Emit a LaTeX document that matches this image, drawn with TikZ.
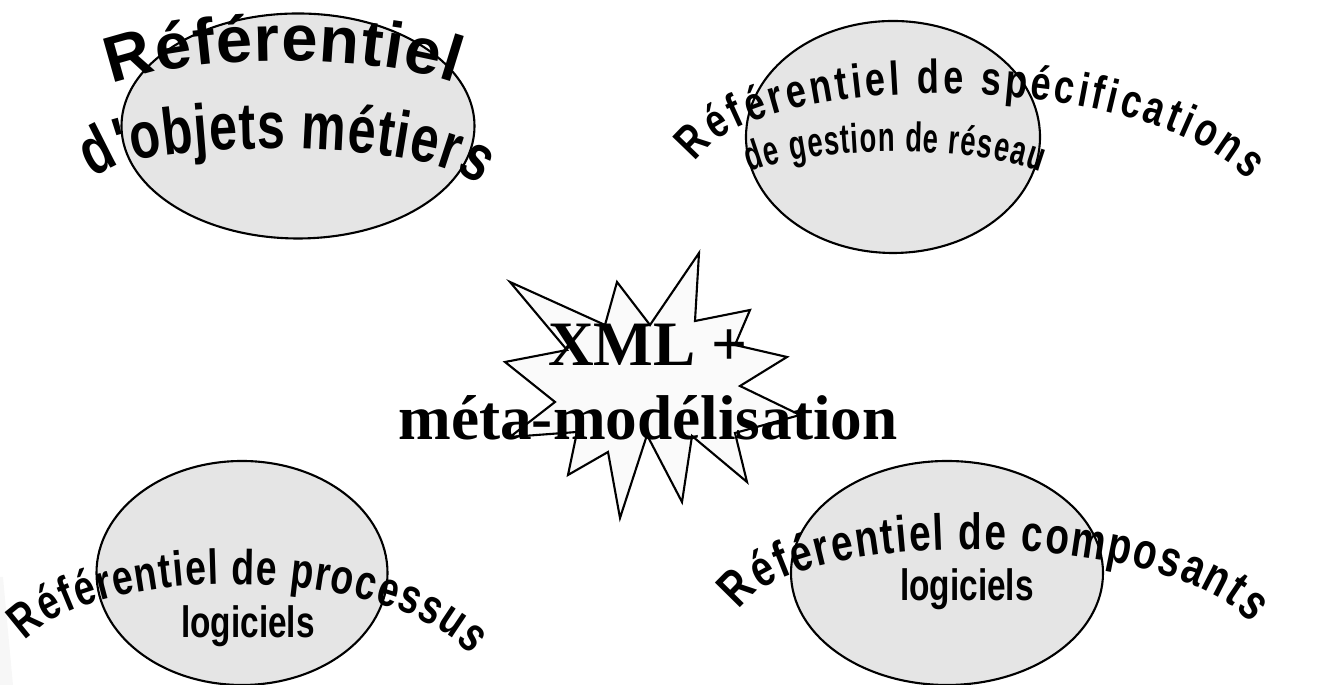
\documentclass[tikz,border=0pt]{standalone}
\usepackage{fontspec}
\usepackage{tikz}
\usetikzlibrary{shapes.geometric,decorations.text,positioning}
\newfontfamily\arcfont{Liberation Sans}[FakeStretch=0.76]
\newfontfamily\arcnarrowfont{Liberation Sans}[FakeStretch=0.66]
\newfontfamily\arcwidefont{Liberation Sans}
\newfontfamily\xmlfont{Liberation Serif}
\definecolor{ovalgray}{gray}{0.9}
\definecolor{stargray}{gray}{0.98}
\definecolor{stripgray}{gray}{0.97}

\begin{document}
\begin{tikzpicture}[
  oval/.style={ellipse, draw, line width=0.6pt, fill=ovalgray, inner sep=0pt},
  arctext/.style n args={3}{decorate, decoration={text along path, text align={fit to path},
    text={|#1\bfseries\fontsize{#2}{#2}\selectfont|#3}}},
  flattext/.style={font=\arcfont\bfseries\fontsize{12.5}{15}\selectfont, inner sep=0pt},
  xmltext/.style={font=\xmlfont\bfseries\fontsize{18}{21}\selectfont, inner sep=0pt}]
			\useasboundingbox (0,0) rectangle (13.22,6.85);
			\fill[stripgray] (0,1.08) -- (0.03,1.08) -- (0.13,0) -- (0,0) -- cycle;
			% les quatre referentiels
			\node[oval, minimum width=3.53cm, minimum height=2.25cm] (objets) at (2.98,5.59) {};
			\node[oval, minimum width=2.94cm, minimum height=2.32cm] (specif) at (8.93,5.48) {};
			\node[oval, minimum width=2.91cm, minimum height=2.24cm] (processus) at (2.42,1.12) {};
			\node[oval, minimum width=3.12cm, minimum height=2.24cm] (composants) at (9.47,1.12) {};
			% etoile
			\draw[line width=0.6pt, fill=stargray] (5.10,4.03) -- (6.05,3.60) -- (6.17,4.03) -- (6.50,3.60)
			  -- (6.99,4.32) -- (6.95,3.64) -- (7.50,3.75) -- (7.35,3.40) -- (7.87,3.28) -- (7.40,2.99)
			  -- (8.00,2.70) -- (7.35,2.52) -- (7.47,2.03) -- (6.92,2.49) -- (6.82,1.83) -- (6.47,2.50)
			  -- (6.20,1.67) -- (6.08,2.33) -- (5.68,2.10) -- (5.77,2.53) -- (5.10,2.48) -- (5.55,2.83)
			  -- (5.05,3.23) -- (5.67,3.35) -- cycle;
			\node[xmltext, anchor=base] (xml) at (6.48,3.19) {XML +};
			\node[xmltext, anchor=base] (meta) at (6.48,2.45) {méta-modélisation};
			% textes en arc
			\path[arctext={\arcwidefont}{18.5}{Référentiel}] (1.12,6.00) .. controls (1.9,6.32) and (3.7,6.32) .. (4.55,6.02);
			\path[arctext={\arcfont}{18.8}{d'objets métiers}] (0.94,5.05) .. controls (1.25,5.48) and (4.40,5.48) .. (4.78,4.98);
			\path[arctext={\arcfont}{13.5}{Référentiel de spécifications}] (6.95,5.23) .. controls (7.55,6.17) and (11.45,6.17) .. (12.48,5.05);
			\path[arctext={\arcnarrowfont}{11.8}{de gestion de réseau}] (7.50,5.13) .. controls (8.2,5.4) and (9.7,5.4) .. (10.40,5.13);
			\path[arctext={\arcfont}{14}{Référentiel de processus}] (0.25,0.44) .. controls (0.95,1.22) and (3.90,1.22) .. (4.70,0.30);
			\node[flattext, anchor=base] (logproc) at (2.48,0.47) {logiciels};
			\path[arctext={\arcfont}{14.5}{Référentiel de composants}] (7.40,0.74) .. controls (7.85,1.58) and (11.7,1.58) .. (12.50,0.62);
			\node[flattext, anchor=base] (logcomp) at (9.67,0.84) {logiciels};
		\end{tikzpicture}
\end{document}
